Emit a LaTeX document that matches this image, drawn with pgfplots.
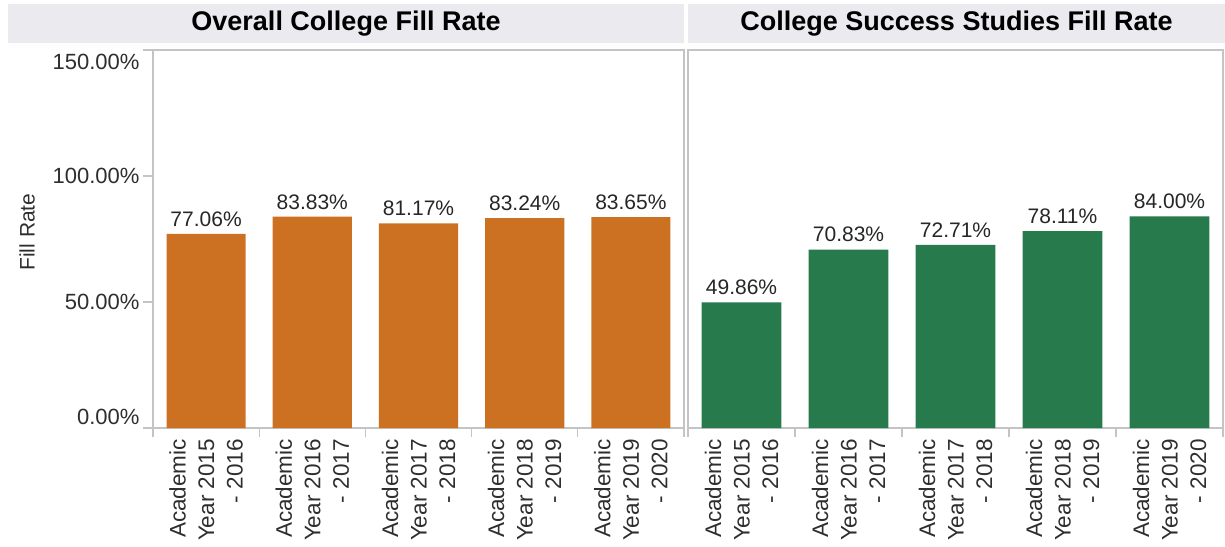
\documentclass[border=0pt]{standalone}
\usepackage{fontspec}
\setmainfont{Liberation Sans}
\usepackage{pgfplots}
\pgfplotsset{compat=1.18}

\definecolor{barorange}{HTML}{CC7122}
\definecolor{bargreen}{HTML}{267A4C}
\definecolor{stripgray}{HTML}{EBEBEF}
\definecolor{framegray}{HTML}{C4C4C4}
\definecolor{textgray}{HTML}{2E2E2E}

\pgfplotsset{
  panel/.style={
    scale only axis, height=378pt,
    ybar, bar width=0.745,
    xmin=-0.5, xmax=4.5, ymin=0, ymax=150,
    clip=false,
    axis line style={draw=framegray, line width=1.2pt},
    tick align=outside, major tick length=10pt,
    tick style={draw=framegray, line width=1.2pt},
    xtick={0,1,2,3,4},
    xticklabels={{Academic\\Year 2015\\- 2016},{Academic\\Year 2016\\- 2017},
      {Academic\\Year 2017\\- 2018},{Academic\\Year 2018\\- 2019},{Academic\\Year 2019\\- 2020}},
    xtick style={draw=none},
    extra x ticks={-0.5,0.5,1.5,2.5,3.5,4.5},
    extra x tick labels={},
    extra x tick style={xtick style={draw=framegray, line width=1.2pt}, major tick length=9pt},
    xticklabel style={rotate=90, anchor=east, align=right,
      font=\fontsize{22.5}{28.5}\selectfont, text=textgray, inner sep=1pt},
    yticklabel style={font=\fontsize{22}{26}\selectfont, text=textgray},
    xtick pos=bottom, ytick pos=left,
    /pgf/number format/assume math mode=true,
    nodes near coords={\pgfmathprintnumber[fixed,fixed zerofill,precision=2]{\pgfplotspointmeta}\%},
    every node near coord/.append style={font=\fontsize{21}{25}\selectfont,
      text=black!85, anchor=south, yshift=4pt},
  }
}

\begin{document}
\begin{tikzpicture}
\useasboundingbox (0,0) rectangle (1225pt,546pt);

% title strips
\fill[stripgray] (8pt,503pt) rectangle (684pt,542pt);
\fill[stripgray] (688pt,503pt) rectangle (1225pt,542pt);
\node[font=\fontsize{27}{31}\selectfont\bfseries] at (346pt,522.5pt) {Overall College Fill Rate};
\node[font=\fontsize{27}{31}\selectfont\bfseries] at (956.5pt,522.5pt) {College Success Studies Fill Rate};

\begin{axis}[panel, at={(153pt,118pt)}, anchor=south west, width=531pt,
  ytick={0,50,100,150},
  yticklabels={\smash{\raisebox{4pt}{0.00\%}},50.00\%,100.00\%,\smash{\raisebox{-20pt}{150.00\%}}},
  ylabel={Fill Rate},
  every axis y label/.style={at={(rel axis cs:0,0.5)}, xshift=-126pt, yshift=7pt,
    rotate=90, anchor=center, font=\fontsize{21}{25}\selectfont, text=textgray},
]
\addplot[fill=barorange, draw=none] coordinates {
  (0,77.06) (1,83.83) (2,81.17) (3,83.24) (4,83.65)
};
\end{axis}

\begin{axis}[panel, at={(688pt,118pt)}, anchor=south west, width=535pt,
  ytick=\empty,
]
\addplot[fill=bargreen, draw=none] coordinates {
  (0,49.86) (1,70.83) (2,72.71) (3,78.11) (4,84.00)
};
\end{axis}
\end{tikzpicture}
\end{document}
